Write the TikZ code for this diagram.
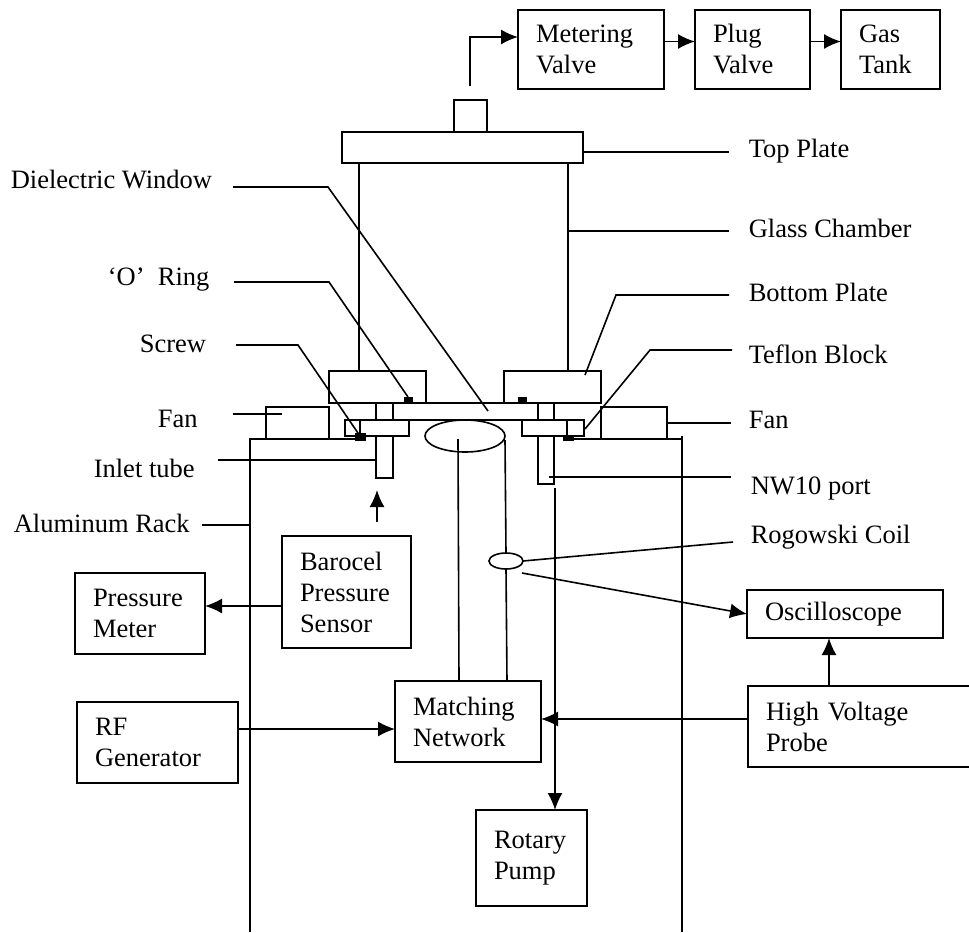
\documentclass[tikz,border=0pt]{standalone}
\usepackage{fontspec}
\setmainfont{Liberation Serif}
\usetikzlibrary{arrows.meta,shapes.geometric}
\tikzset{
    every node/.style={font=\fontsize{26.5}{31}\selectfont},
    stagebox/.style 2 args={draw, anchor=north west, align=left, inner xsep=18pt, inner ysep=0pt, outer sep=0pt, text width=#1, minimum height=#2},
    partbox/.style 2 args={draw, anchor=north west, inner sep=0pt, outer sep=0pt, minimum width=#1, minimum height=#2},
    oval/.style 2 args={draw, ellipse, inner sep=0pt, outer sep=0pt, minimum width=#1, minimum height=#2},
    partlabel/.style={anchor=base west, inner sep=0pt},
    arrowline/.style={-{Latex[length=17pt,width=15pt]}}
}
\begin{document}
\begin{tikzpicture}[x=1pt, y=-1pt, line width=1.6pt]
        \useasboundingbox (0, 0) rectangle (969, 932);

        \node[stagebox={110}{79}] (metering) at (518, 10) {Metering\\Valve};
        \node[stagebox={79}{79}] (plug) at (695, 10) {Plug\\Valve};
        \node[stagebox={63}{79}] (tank) at (841, 10) {Gas\\Tank};
        \node[stagebox={93}{112}] (barocel) at (282, 536) {Barocel\\Pressure\\Sensor};
        \node[stagebox={94}{81}] (meter) at (75, 573) {Pressure\\Meter};
        \node[stagebox={125}{81}] (generator) at (77, 702) {RF\\Generator};
        \node[stagebox={110}{81}] (matching) at (395, 681) {Matching\\Network};
        \node[stagebox={75}{96}] (pump) at (476, 810) {Rotary\\Pump};
        \node[stagebox={160}{48}] (scope) at (747, 590) {Oscilloscope};
        \node[anchor=north west, align=left, inner xsep=18pt, inner ysep=0pt, outer sep=0pt, text width=185, minimum height=81] (probe) at (748, 686) {High Voltage\\Probe};
        \draw (probe.north east) -- (probe.north west) -- (probe.south west) -- (probe.south east);

        \node[partbox={241}{31}] (topplate) at (342, 132) {};
        \node[partbox={33}{32}] (flange) at (454, 100) {};
        \node[partbox={97}{32}] (leftplate) at (329, 371) {};
        \node[partbox={97}{32}] (rightplate) at (504, 371) {};
        \node[partbox={63}{32}] (leftfan) at (266, 407) {};
        \node[partbox={66}{32}] (rightfan) at (601, 407) {};
        \node[partbox={64}{16}] (leftblock) at (345, 420) {};
        \node[partbox={62}{16}] (rightblock) at (522, 420) {};
        \node[oval={80}{32}] (plasma) at (465, 436) {};
        \node[oval={34}{16}] (coil) at (506, 561) {};

        \draw (359, 163) -- (359, 371);
        \draw (568, 163) -- (568, 371);
        \draw (426, 403) -- (504, 403);
        \draw (409, 420) -- (522, 420);
        \draw (360, 420) -- (360, 436);
        \draw (567, 420) -- (567, 436);

        \draw (376, 403) -- (376, 420);
        \draw (393, 403) -- (393, 420);
        \draw (376, 436) -- (376, 478) -- (393, 478) -- (393, 436);
        \draw (538, 403) -- (538, 420);
        \draw (554, 403) -- (554, 420);
        \draw (538, 436) -- (538, 484) -- (554, 484) -- (554, 436);

        \draw (250, 932) -- (250, 439) -- (366, 439);
        \draw (563, 439) -- (682, 439);
        \draw (682, 436) -- (682, 932);

        \fill (355, 433) rectangle (366, 441);
        \fill (563, 435) rectangle (574, 441);
        \fill (404, 397) rectangle (413, 403);
        \fill (518, 397) rectangle (527, 403);

        \coordinate (outlet) at (470, 86);
        \draw[arrowline] (outlet) |- ([yshift=12.5pt]metering.west);
        \draw[arrowline] ([yshift=8pt]metering.east) -- ([yshift=8pt]plug.west);
        \draw[arrowline] ([yshift=8pt]plug.east) -- ([yshift=8pt]tank.west);

        \coordinate (gaugestart) at (377, 522);
        \coordinate (gaugetip) at (377, 490);
        \draw[arrowline] (gaugestart) -- (gaugetip);
        \draw[arrowline] ([yshift=-14pt]barocel.west) -- ([yshift=7.5pt]meter.east);
        \draw[arrowline] ([yshift=13.5pt]generator.east) -- ([yshift=-7.5pt]matching.west);
        \draw[arrowline] ([yshift=7.5pt]probe.west) -- ([yshift=2.5pt]matching.east);
        \draw[arrowline] ([xshift=-29.5pt]probe.north) -- ([xshift=-16pt]scope.south);

        \coordinate (pumpline) at (555, 488);
        \draw[arrowline] (pumpline) -- ([xshift=23.5pt]pump.north);
        \coordinate (coilsignal) at (522, 573);
        \draw[arrowline] (coilsignal) -- (scope.west);

        \coordinate (plasmafeed) at (458, 439);
        \draw (plasmafeed) -- ([xshift=-9pt]matching.north);
        \coordinate (plasmaside) at (505, 440);
        \draw (plasmaside) -- (coil.north);
        \draw (coil.south) -- ([xshift=39pt]matching.north);

        \node[partlabel] (toplabel) at (748, 157) {Top Plate};
        \node[partlabel] (glasslabel) at (748, 237) {Glass Chamber};
        \node[partlabel] (bottomlabel) at (748, 301) {Bottom Plate};
        \node[partlabel] (teflonlabel) at (748, 363) {Teflon Block};
        \node[partlabel] (rightfanlabel) at (748, 428) {Fan};
        \node[partlabel] (portlabel) at (750, 494) {NW10 port};
        \node[partlabel] (coillabel) at (750, 543) {Rogowski Coil};

        \node[partlabel] (windowlabel) at (10, 188) {Dielectric Window};
        \node[partlabel] (ringlabel) at (107, 285) {‘O’\ \ Ring};
        \node[partlabel] (screwlabel) at (139, 352) {Screw};
        \node[partlabel] (leftfanlabel) at (157, 427) {Fan};
        \node[partlabel] (inletlabel) at (93, 477) {Inlet tube};
        \node[partlabel] (racklabel) at (13, 532) {Aluminum Rack};

        \coordinate (topend) at (729, 152);
        \draw (topplate.east |- topend) -- (topend);
        \coordinate (glassend) at (729, 231);
        \coordinate (glassstart) at (568, 231);
        \draw (glassstart) -- (glassend);
        \draw (585, 375) -- (616, 295) -- (729, 295);
        \draw (585, 429) -- (650, 350) -- (732, 350);
        \coordinate (rightfanend) at (731, 423);
        \draw (rightfan.east |- rightfanend) -- (rightfanend);
        \draw (549, 477) -- (731, 477);
        \coordinate (coilend) at (733, 542);
        \draw (coil.east) -- (coilend);

        \draw (233, 187) -- (328, 187) -- (488, 411);
        \draw (234, 282) -- (329, 282) -- (408, 397);
        \draw (236, 345) -- (298, 345) -- (360, 436);
        \draw (233, 414) -- (282, 414);
        \draw (218, 460) -- (376, 460);
        \draw (202, 525) -- (250, 525);
\end{tikzpicture}
\end{document}
